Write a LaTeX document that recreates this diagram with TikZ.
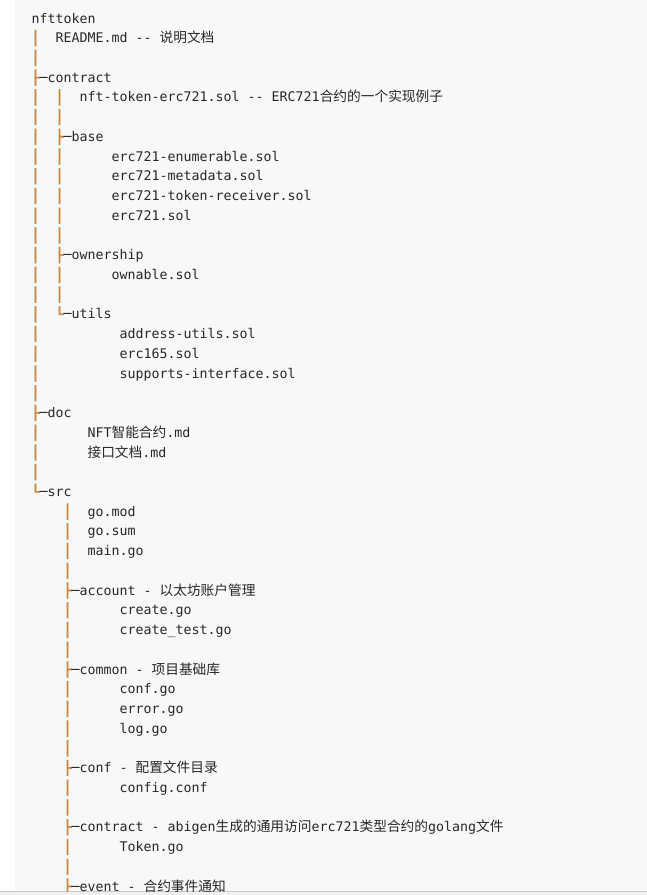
\documentclass[tikz,border=0pt]{standalone}
\usepackage{fontspec}
\setmonofont{DejaVu Sans Mono}
\newfontfamily\barfont[FakeBold=4]{DejaVu Sans Mono}
\newfontfamily\cjk[Scale=1.03]{Noto Sans CJK SC}
\usetikzlibrary{positioning}
\definecolor{ink}{RGB}{40,40,40}
\definecolor{treebar}{RGB}{206,136,62}
\definecolor{codebg}{HTML}{F6F8FA}
\definecolor{rulegray}{RGB}{200,200,200}
\definecolor{footbg}{RGB}{240,240,240}
\newcommand\tbar{\textcolor{treebar}{\barfont │}}
\newcommand\ttee{\textcolor{treebar}{\barfont ├}─}
\newcommand\tlast{\textcolor{treebar}{\barfont └}─}
\tikzset{
  tree/.style={
	node distance=19.727pt, % one line of the listing
	every node/.style={inner sep=0pt, outer sep=0pt, text=ink},
  },
  row/.style={anchor=base west, font=\ttfamily\fontsize{13.3pt}{19.7pt}\selectfont},
}

\begin{document}
\begin{tikzpicture}[tree]
% page, code block and footer
\fill[white] (0pt,0pt) rectangle (646pt,-891pt);
\fill[codebg] (15pt,0pt) rectangle (646pt,-891pt);
\fill[footbg] (0pt,-891pt) rectangle (646pt,-895pt);
\draw[rulegray, line width=1pt] (0pt,-891.5pt) -- (646pt,-891.5pt);
\useasboundingbox (0pt,0pt) rectangle (646pt,-895pt);
\begin{scope}
\clip (15pt,0pt) rectangle (646pt,-891pt);
\node[row] (r0) at (31pt,-23pt) {nfttoken};
\node[below=of r0.base west, row] (r1) {\tbar~~README.md -- {\cjk 说明文档}};
\node[below=of r1.base west, row] (r2) {\tbar};
\node[below=of r2.base west, row] (r3) {\ttee contract};
\node[below=of r3.base west, row] (r4) {\tbar~~\tbar~~nft-token-erc721.sol -- ERC721{\cjk 合约的一个实现例子}};
\node[below=of r4.base west, row] (r5) {\tbar~~\tbar};
\node[below=of r5.base west, row] (r6) {\tbar~~\ttee base};
\node[below=of r6.base west, row] (r7) {\tbar~~\tbar~~~~~~erc721-enumerable.sol};
\node[below=of r7.base west, row] (r8) {\tbar~~\tbar~~~~~~erc721-metadata.sol};
\node[below=of r8.base west, row] (r9) {\tbar~~\tbar~~~~~~erc721-token-receiver.sol};
\node[below=of r9.base west, row] (r10) {\tbar~~\tbar~~~~~~erc721.sol};
\node[below=of r10.base west, row] (r11) {\tbar~~\tbar};
\node[below=of r11.base west, row] (r12) {\tbar~~\ttee ownership};
\node[below=of r12.base west, row] (r13) {\tbar~~\tbar~~~~~~ownable.sol};
\node[below=of r13.base west, row] (r14) {\tbar~~\tbar};
\node[below=of r14.base west, row] (r15) {\tbar~~\tlast utils};
\node[below=of r15.base west, row] (r16) {\tbar~~~~~~~~~~address-utils.sol};
\node[below=of r16.base west, row] (r17) {\tbar~~~~~~~~~~erc165.sol};
\node[below=of r17.base west, row] (r18) {\tbar~~~~~~~~~~supports-interface.sol};
\node[below=of r18.base west, row] (r19) {\tbar};
\node[below=of r19.base west, row] (r20) {\ttee doc};
\node[below=of r20.base west, row] (r21) {\tbar~~~~~~NFT{\cjk 智能合约}.md};
\node[below=of r21.base west, row] (r22) {\tbar~~~~~~{\cjk 接口文档}.md};
\node[below=of r22.base west, row] (r23) {\tbar};
\node[below=of r23.base west, row] (r24) {\tlast src};
\node[below=of r24.base west, row] (r25) {~~~~\tbar~~go.mod};
\node[below=of r25.base west, row] (r26) {~~~~\tbar~~go.sum};
\node[below=of r26.base west, row] (r27) {~~~~\tbar~~main.go};
\node[below=of r27.base west, row] (r28) {~~~~\tbar};
\node[below=of r28.base west, row] (r29) {~~~~\ttee account - {\cjk 以太坊账户管理}};
\node[below=of r29.base west, row] (r30) {~~~~\tbar~~~~~~create.go};
\node[below=of r30.base west, row] (r31) {~~~~\tbar~~~~~~create\_test.go};
\node[below=of r31.base west, row] (r32) {~~~~\tbar};
\node[below=of r32.base west, row] (r33) {~~~~\ttee common - {\cjk 项目基础库}};
\node[below=of r33.base west, row] (r34) {~~~~\tbar~~~~~~conf.go};
\node[below=of r34.base west, row] (r35) {~~~~\tbar~~~~~~error.go};
\node[below=of r35.base west, row] (r36) {~~~~\tbar~~~~~~log.go};
\node[below=of r36.base west, row] (r37) {~~~~\tbar};
\node[below=of r37.base west, row] (r38) {~~~~\ttee conf - {\cjk 配置文件目录}};
\node[below=of r38.base west, row] (r39) {~~~~\tbar~~~~~~config.conf};
\node[below=of r39.base west, row] (r40) {~~~~\tbar};
\node[below=of r40.base west, row] (r41) {~~~~\ttee contract - abigen{\cjk 生成的通用访问}erc721{\cjk 类型合约的}golang{\cjk 文件}};
\node[below=of r41.base west, row] (r42) {~~~~\tbar~~~~~~Token.go};
\node[below=of r42.base west, row] (r43) {~~~~\tbar};
\node[below=of r43.base west, row] (r44) {~~~~\ttee event - {\cjk 合约事件通知}};
\end{scope}
\end{tikzpicture}
\end{document}
